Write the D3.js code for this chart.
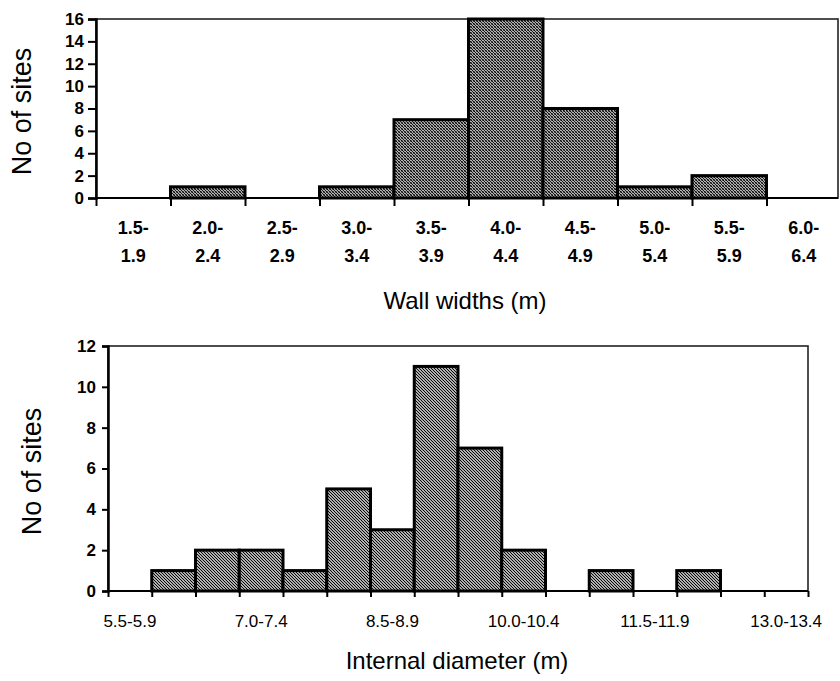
<!doctype html>
<html lang="en">
<head>
    <meta charset="UTF-8">
    <title>Wall widths and internal diameters</title>
    <style>
        body { margin: 0; background: #fff; }
        svg { display: block; font-family: "Liberation Sans", Arial, sans-serif; }
    </style>
</head>
<body>

<div class="canvas">
    <svg width="840" height="681"></svg>
</div>

<script src="https://d3js.org/d3.v7.min.js"></script>
<script>
    // wall widths (m)
    const wallBins = ['1.5-1.9', '2.0-2.4', '2.5-2.9', '3.0-3.4', '3.5-3.9',
        '4.0-4.4', '4.5-4.9', '5.0-5.4', '5.5-5.9', '6.0-6.4'];
    const wallCounts = [0, 1, 0, 1, 7, 16, 8, 1, 2, 0];
    const wallTicks = [0, 2, 4, 6, 8, 10, 12, 14, 16];

    // internal diameter (m)
    const diamBins = ['5.5-5.9', '6.0-6.4', '6.5-6.9', '7.0-7.4', '7.5-7.9', '8.0-8.4',
        '8.5-8.9', '9.0-9.4', '9.5-9.9', '10.0-10.4', '10.5-10.9', '11.0-11.4',
        '11.5-11.9', '12.0-12.4', '12.5-12.9', '13.0-13.4'];
    const diamCounts = [0, 1, 2, 2, 1, 5, 3, 11, 7, 2, 0, 1, 0, 1, 0, 0];
    const diamLabelled = ['5.5-5.9', '7.0-7.4', '8.5-8.9', '10.0-10.4', '11.5-11.9', '13.0-13.4'];
    const diamTicks = [0, 2, 4, 6, 8, 10, 12];

    const svg = d3.select('.canvas svg');

    // hatch fills
    const defs = svg.append('defs');
    const cross = defs.append('pattern')
        .attr('id', 'cross')
        .attr('patternUnits', 'userSpaceOnUse')
        .attr('width', 3).attr('height', 3);
    cross.append('rect').attr('width', 3).attr('height', 3).attr('fill', '#fff');
    cross.append('path')
        .attr('d', 'M0,0L3,3M-1,2L1,4M2,-1L4,1')
        .attr('stroke', '#000').attr('stroke-width', 1.2);
    cross.append('path')
        .attr('d', 'M0,3L3,0M-1,1L1,-1M2,4L4,2')
        .attr('stroke', '#222').attr('stroke-width', 0.6);

    const diag = defs.append('pattern')
        .attr('id', 'diag')
        .attr('patternUnits', 'userSpaceOnUse')
        .attr('width', 3).attr('height', 3);
    diag.append('rect').attr('width', 3).attr('height', 3).attr('fill', '#fff');
    diag.append('path')
        .attr('d', 'M0,0L3,3M-1,2L1,4M2,-1L4,1')
        .attr('stroke', '#000').attr('stroke-width', 1.2);

    function drawHist(opt) {
        const g = svg.append('g');

        const x = d3.scaleBand()
            .domain(opt.bins)
            .range([opt.left, opt.xEnd])
            .paddingInner(0).paddingOuter(0);
        // bin boundaries as a linear index scale, used for the tick marks
        const xi = d3.scaleLinear()
            .domain([0, opt.bins.length])
            .range([opt.left, opt.xEnd]);
        const y = d3.scaleLinear()
            .domain([0, d3.max(opt.ticks)])
            .range([opt.bottom, opt.top]);

        // frame
        g.append('rect')
            .attr('x', opt.left).attr('y', opt.top)
            .attr('width', opt.right - opt.left)
            .attr('height', opt.bottom - opt.top)
            .attr('fill', 'none')
            .attr('stroke', '#222')
            .attr('stroke-width', 1.6);

        // bars
        g.selectAll('rect.bar')
            .data(opt.counts.map((v, i) => ({ bin: opt.bins[i], v })).filter(d => d.v > 0))
            .enter()
            .append('rect')
            .attr('class', 'bar')
            .attr('x', d => x(d.bin))
            .attr('y', d => y(d.v))
            .attr('width', x.bandwidth())
            .attr('height', d => y(0) - y(d.v))
            .attr('fill', opt.fill)
            .attr('stroke', '#000')
            .attr('stroke-width', 3);

        // y axis
        const yAxis = g.append('g')
            .attr('transform', `translate(${opt.left},0)`)
            .call(d3.axisLeft(y).tickValues(opt.ticks).tickSize(opt.tickLen).tickPadding(opt.yPad));
        yAxis.select('.domain').attr('stroke', '#000').attr('stroke-width', 2.5);
        yAxis.selectAll('.tick line').attr('stroke', '#000').attr('stroke-width', 2);
        yAxis.selectAll('.tick text')
            .attr('fill', '#000')
            .style('font-size', '17px')
            .style('font-weight', 'bold');

        // x axis ticks at bin boundaries
        const tickIdx = d3.range(0, opt.bins.length + 1).filter(k => xi(k) <= opt.right + 0.5);
        const xAxis = g.append('g')
            .attr('transform', `translate(0,${opt.bottom})`)
            .call(d3.axisBottom(xi).tickValues(tickIdx).tickSize(opt.tickLen).tickFormat(''));
        xAxis.select('.domain').remove();
        xAxis.selectAll('.tick line').attr('stroke', '#000').attr('stroke-width', 2);

        // baseline
        g.append('line')
            .attr('x1', opt.left).attr('x2', opt.right)
            .attr('y1', y(0)).attr('y2', y(0))
            .attr('stroke', '#000').attr('stroke-width', 2);

        // y title
        g.append('text')
            .attr('transform', `translate(${opt.yTitleX},${(opt.top + opt.bottom) / 2 + 3}) rotate(-90)`)
            .attr('text-anchor', 'middle')
            .style('font-size', '27px')
            .text('No of sites');

        // x title
        g.append('text')
            .attr('x', opt.xTitleX)
            .attr('y', opt.xTitleY)
            .attr('text-anchor', 'middle')
            .style('font-size', '24px')
            .text(opt.xTitle);

        return x;
    }

    // top chart
    const xw = drawHist({
        bins: wallBins, counts: wallCounts, ticks: wallTicks,
        left: 96, right: 838, xEnd: 841, top: 19, bottom: 198,
        tickLen: 8, yPad: 4, fill: 'url(#cross)',
        yTitleX: 31, xTitle: 'Wall widths (m)', xTitleX: 465, xTitleY: 309
    });
    const wallLabels = svg.append('g')
        .selectAll('text')
        .data(wallBins)
        .enter()
        .append('text')
        .attr('text-anchor', 'middle')
        .attr('x', d => xw(d) + xw.bandwidth() / 2)
        .style('font-size', '18px')
        .style('font-weight', 'bold');
    wallLabels.append('tspan')
        .attr('x', d => xw(d) + xw.bandwidth() / 2)
        .attr('y', 234)
        .text(d => d.split('-')[0] + '-');
    wallLabels.append('tspan')
        .attr('x', d => xw(d) + xw.bandwidth() / 2)
        .attr('y', 262)
        .text(d => d.split('-')[1]);

    // bottom chart
    const xd = drawHist({
        bins: diamBins, counts: diamCounts, ticks: diamTicks,
        left: 108, right: 808, xEnd: 808, top: 346, bottom: 591,
        tickLen: 6, yPad: 6, fill: 'url(#diag)',
        yTitleX: 41, xTitle: 'Internal diameter (m)', xTitleX: 457, xTitleY: 669
    });
    svg.append('g')
        .selectAll('text')
        .data(diamLabelled)
        .enter()
        .append('text')
        .attr('text-anchor', 'middle')
        .attr('x', d => xd(d) + xd.bandwidth() / 2)
        .attr('y', 627)
        .style('font-size', '17px')
        .text(d => d);
</script>
</body>
</html>
